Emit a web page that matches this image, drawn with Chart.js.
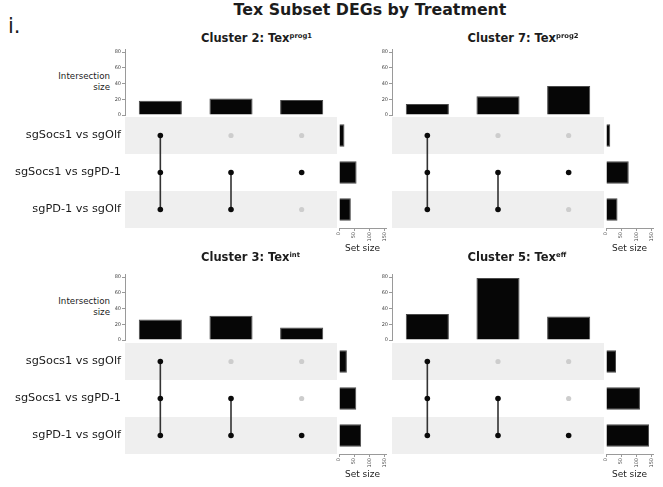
<!DOCTYPE html>
<html><head><meta charset="utf-8">
<script src="https://cdn.jsdelivr.net/npm/chart.js@4.4.1/dist/chart.umd.min.js"></script>
<style>
body{margin:0;background:#fff;width:663px;height:487px;overflow:hidden;position:relative;font-family:'DejaVu Sans',sans-serif;color:#1c1c1c}
canvas{position:absolute}
.t{position:absolute;white-space:nowrap;line-height:1}
</style></head><body>
<script>
// ---------------- data ----------------
const sets = ['sgSocs1 vs sgOlf', 'sgSocs1 vs sgPD-1', 'sgPD-1 vs sgOlf'];
const mainTitle = 'Tex Subset DEGs by Treatment';
const panelLetter = 'i.';
const panelTitles = ['Cluster 2: Tex', 'Cluster 7: Tex', 'Cluster 3: Tex', 'Cluster 5: Tex'];
const panelSups = ['prog1', 'prog2', 'int', 'eff'];
const intersectionTicks = [0, 20, 40, 60, 80];
const setSizeTicks = [0, 50, 100, 150];
const intersectionAxisTitle = ['Intersection', 'size'];
const setSizeAxisTitle = 'Set size';

// Cluster 2: Tex prog1
const c2Intersections = [18, 21, 19];
const c2Members = [[0, 1, 2], [1, 2], [1]];
const c2SetSizes = [18, 58, 39];
// Cluster 7: Tex prog2
const c7Intersections = [14, 24, 37];
const c7Members = [[0, 1, 2], [1, 2], [1]];
const c7SetSizes = [14, 75, 38];
// Cluster 3: Tex int
const c3Intersections = [26, 31, 16];
const c3Members = [[0, 1, 2], [1, 2], [2]];
const c3SetSizes = [26, 57, 73];
// Cluster 5: Tex eff
const c5Intersections = [33, 79, 30];
const c5Members = [[0, 1, 2], [1, 2], [2]];
const c5SetSizes = [33, 112, 142];

// ---------------- layout ----------------
Chart.defaults.font.family = "'DejaVu Sans', sans-serif";
Chart.defaults.color = '#333';

const panels = [
  {i: 0, inter: c2Intersections, members: c2Members, sizes: c2SetSizes, ox: 0, oyBar: 0, oyMat: 0, titleBase: 42.5, labels: true},
  {i: 1, inter: c7Intersections, members: c7Members, sizes: c7SetSizes, ox: 267, oyBar: 0, oyMat: 0, titleBase: 42.5, labels: false},
  {i: 2, inter: c3Intersections, members: c3Members, sizes: c3SetSizes, ox: 0, oyBar: 225, oyMat: 226, titleBase: 261.5, labels: true},
  {i: 3, inter: c5Intersections, members: c5Members, sizes: c5SetSizes, ox: 267, oyBar: 225, oyMat: 226, titleBase: 261.5, labels: false}
];

function addCanvas(left, top, w, h) {
  const cv = document.createElement('canvas');
  cv.width = w; cv.height = h;
  cv.style.left = left + 'px'; cv.style.top = top + 'px';
  cv.style.width = w + 'px'; cv.style.height = h + 'px';
  document.body.appendChild(cv);
  return cv;
}
function addText(parts, x, base, size, weight, align) {
  const d = document.createElement('div');
  d.className = 't';
  d.style.fontSize = size + 'px';
  d.style.fontWeight = weight;
  d.style.left = x + 'px';
  d.style.top = (base - 0.846 * size) + 'px';
  if (align === 'center') d.style.transform = 'translateX(-50%)';
  if (align === 'right') d.style.transform = 'translateX(-100%)';
  parts.forEach(p => {
    const s = document.createElement('span');
    s.textContent = p.text;
    if (p.sup) { s.style.fontSize = p.sup + 'px'; s.style.position = 'relative'; s.style.top = (-p.raise) + 'px'; }
    d.appendChild(s);
  });
  document.body.appendChild(d);
}

const bandPlugin = {
  id: 'bands',
  beforeDatasetsDraw(chart) {
    const {ctx, chartArea: a, scales: {y}} = chart;
    ctx.save();
    ctx.fillStyle = '#efefef';
    [1, 3].forEach(r => {
      const y0 = y.getPixelForValue(r - 0.5), y1 = y.getPixelForValue(r + 0.5);
      ctx.fillRect(a.left, Math.min(y0, y1), a.right - a.left, Math.abs(y1 - y0));
    });
    ctx.restore();
  }
};

const axisGray = '#9a9a9a';
const tickFont = {size: 5};

addText([{text: mainTitle}], 370, 15, 15.8, 'bold', 'center');
addText([{text: panelLetter}], 8, 33.5, 21, 'normal', 'left');

panels.forEach(P => {
  const ox = P.ox, ob = P.oyBar, om = P.oyMat;
  // title
  const titleX = ox === 0 ? 201 : 467.5;
  addText([{text: panelTitles[P.i]}, {text: panelSups[P.i], sup: 6.8, raise: 4}], titleX, P.titleBase, 11.5, 'bold', 'left');
  if (P.labels) {
    addText([{text: intersectionAxisTitle[0]}], 110, ob + 79.7, 8.7, 'normal', 'right');
    addText([{text: intersectionAxisTitle[1]}], 110, ob + 90.5, 8.7, 'normal', 'right');
  }

  // ---- intersection size bars ----
  const cvB = addCanvas(ox + 105, ob + 43, 232, 77);
  new Chart(cvB, {
    type: 'bar',
    data: {labels: P.inter.map((v, k) => 'I' + (k + 1)),
      datasets: [{data: P.inter, backgroundColor: '#060606', borderColor: '#4a4a4a', borderWidth: 1,
        barPercentage: 0.61, categoryPercentage: 1}]},
    options: {
      responsive: false, animation: false,
      layout: {autoPadding: false, padding: {top: 6, bottom: 5, left: 0, right: 0}},
      plugins: {legend: {display: false}, tooltip: {enabled: false}},
      scales: {
        x: {display: false},
        y: {min: 0, max: 84,
          afterBuildTicks: s => { s.ticks = intersectionTicks.map(v => ({value: v})); },
          afterFit: s => { s.width = 20; },
          ticks: {font: tickFont, color: '#444', padding: 1},
          grid: {drawOnChartArea: false, tickLength: 3, color: axisGray},
          border: {color: axisGray, width: 1}}
      }
    }
  });

  // ---- matrix ----
  const active = [], inactive = [], lines = [];
  P.members.forEach((rows, col) => {
    for (let r = 0; r < sets.length; r++) {
      const pt = {x: col + 1, y: r + 1};
      (rows.includes(r) ? active : inactive).push(pt);
    }
    if (rows.length > 1) {
      lines.push({data: rows.map(r => ({x: col + 1, y: r + 1})), showLine: true, borderColor: '#333',
        borderWidth: 1.6, pointRadius: 0, order: 2});
    }
  });
  const padV = 14;
  const matLeft = P.labels ? ox : ox + 125;
  const matW = P.labels ? 337 : 212;
  const cvM = addCanvas(matLeft, om + 117 - padV, matW, 111 + 2 * padV);
  new Chart(cvM, {
    type: 'scatter',
    data: {datasets: [
      {data: active, pointRadius: 2.8, pointBackgroundColor: '#0a0a0a', pointBorderWidth: 0, order: 0},
      {data: inactive, pointRadius: 2.6, pointBackgroundColor: '#cdcdcd', pointBorderWidth: 0, order: 1},
      ...lines
    ]},
    options: {
      responsive: false, animation: false,
      layout: {autoPadding: false, padding: {top: padV, bottom: padV, left: 0, right: 0}},
      plugins: {legend: {display: false}, tooltip: {enabled: false}},
      scales: {
        x: {display: false, min: 0.5, max: sets.length + 0.5},
        y: {display: P.labels, min: 0.5, max: sets.length + 0.5, reverse: true,
          afterBuildTicks: s => { s.ticks = sets.map((n, k) => ({value: k + 1})); },
          afterFit: s => { if (P.labels) s.width = 125; },
          ticks: {callback: v => sets[v - 1], font: {size: 11.3}, color: '#1a1a1a', padding: 4},
          grid: {display: false, drawTicks: false}, border: {display: false}}
      }
    },
    plugins: [bandPlugin]
  });

  // ---- set size bars ----
  const cvS = addCanvas(ox + 333, om + 117, 59, 137);
  new Chart(cvS, {
    type: 'bar',
    data: {labels: sets, datasets: [{data: P.sizes, backgroundColor: '#060606', borderColor: '#4a4a4a', borderWidth: 1,
      barPercentage: 0.61, categoryPercentage: 1}]},
    options: {
      indexAxis: 'y', responsive: false, animation: false,
      layout: {autoPadding: false, padding: {left: 6, right: 6, top: 0, bottom: 0}},
      plugins: {legend: {display: false}, tooltip: {enabled: false}},
      scales: {
        y: {display: false},
        x: {min: 0, max: 155, position: 'bottom',
          afterBuildTicks: s => { s.ticks = setSizeTicks.map(v => ({value: v})); },
          afterFit: s => { s.height = 26; },
          ticks: {font: tickFont, color: '#444', padding: 1, minRotation: 90, maxRotation: 90},
          grid: {drawOnChartArea: false, tickLength: 3, color: axisGray},
          border: {color: axisGray, width: 1},
          title: {display: true, text: setSizeAxisTitle, font: {size: 9}, color: '#222', padding: {top: 0, bottom: 0}}}
      }
    }
  });
});
</script>
</body></html>
